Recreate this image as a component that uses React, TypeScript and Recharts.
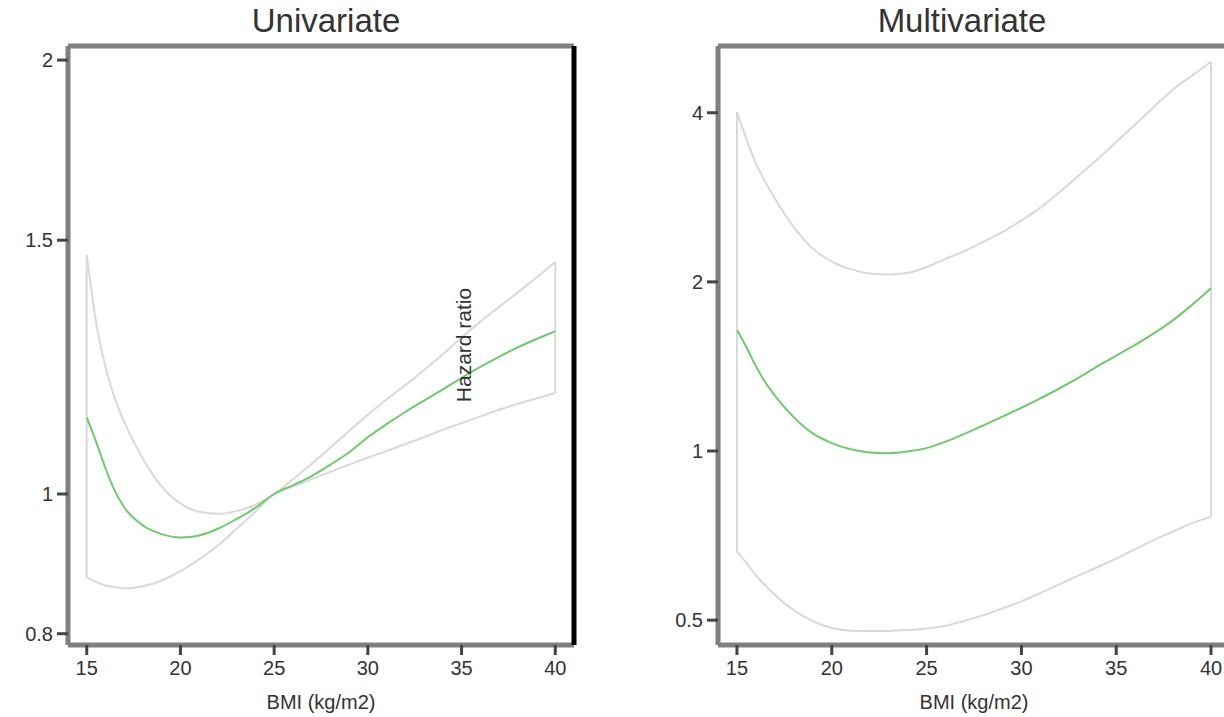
import React from "react";
import { Line, LineChart, XAxis, YAxis } from "recharts";

// BMI grid shared by every curve
const bmiGrid = [15, 15.5, 16, 16.5, 17, 18, 19, 20, 21, 22, 23, 24, 25, 26, 27, 28, 29, 30, 31, 32, 33, 34, 35, 36, 37, 38, 39, 40];
const bmiTicks = [15, 20, 25, 30, 35, 40];

// Univariate hazard ratio with 95% CI
const uniHr = [1.13, 1.087, 1.042, 1.005, 0.979, 0.951, 0.938, 0.933, 0.936, 0.946, 0.961, 0.978, 1.0, 1.014, 1.029, 1.048, 1.069, 1.095, 1.118, 1.14, 1.161, 1.182, 1.204, 1.225, 1.245, 1.264, 1.281, 1.297];
const uniUpper = [1.465, 1.315, 1.225, 1.165, 1.122, 1.058, 1.012, 0.985, 0.972, 0.969, 0.973, 0.983, 1.0, 1.024, 1.049, 1.077, 1.106, 1.135, 1.163, 1.19, 1.219, 1.25, 1.284, 1.317, 1.348, 1.38, 1.413, 1.449];
const uniLower = [0.876, 0.869, 0.864, 0.862, 0.86, 0.863, 0.871, 0.884, 0.901, 0.921, 0.946, 0.972, 1.0, 1.012, 1.024, 1.036, 1.048, 1.06, 1.071, 1.083, 1.095, 1.108, 1.12, 1.132, 1.144, 1.155, 1.165, 1.175];
const uniTicks = [0.8, 1, 1.5, 2];

// Multivariate hazard ratio with 95% CI
const multiHr = [1.642, 1.53, 1.416, 1.324, 1.255, 1.148, 1.075, 1.033, 1.007, 0.994, 0.991, 0.998, 1.012, 1.039, 1.073, 1.111, 1.151, 1.194, 1.241, 1.292, 1.349, 1.414, 1.478, 1.545, 1.621, 1.71, 1.82, 1.948];
const multiUpper = [4.01, 3.59, 3.25, 3.01, 2.815, 2.504, 2.292, 2.174, 2.107, 2.07, 2.062, 2.074, 2.126, 2.197, 2.27, 2.357, 2.453, 2.573, 2.711, 2.888, 3.085, 3.301, 3.547, 3.81, 4.1, 4.4, 4.66, 4.93];
const multiLower = [0.662, 0.632, 0.601, 0.576, 0.5545, 0.521, 0.498, 0.484, 0.479, 0.4785, 0.4785, 0.48, 0.483, 0.4885, 0.4986, 0.5104, 0.5246, 0.54, 0.559, 0.579, 0.6, 0.621, 0.6434, 0.6687, 0.6947, 0.7193, 0.744, 0.764];
const multiTicks = [0.5, 1, 2, 4];

const FONT = "'Liberation Sans', Arial, sans-serif";
const FRAME = "#808080";
const TICK = "#444444";
const TEXT = "#333333";
const GREEN = "#6ccb6c";
const CI_GRAY = "#d9d9d9";

type Point = { bmi: number; hr: number };

const toPoints = (xs: number[], ys: number[]): Point[] => xs.map((bmi, i) => ({ bmi, hr: ys[i] }));

interface PanelProps {
  left: number;
  width: number;
  hr: number[];
  upper: number[];
  lower: number[];
  yDomain: [number, number];
  yTicks: number[];
  rightEdge: string;
}

function Panel({ left, width, hr, upper, lower, yDomain, yTicks, rightEdge }: PanelProps) {
  const last = bmiGrid.length - 1;
  // closing edges of the confidence band at both ends of the BMI range
  const startEdge = [
    { bmi: bmiGrid[0], hr: lower[0] },
    { bmi: bmiGrid[0], hr: upper[0] },
  ];
  const endEdge = [
    { bmi: bmiGrid[last], hr: lower[last] },
    { bmi: bmiGrid[last], hr: upper[last] },
  ];
  const tickStyle = { fill: TEXT, fontSize: 20, fontFamily: FONT };

  return (
    <div style={{ position: "absolute", left, top: 0 }}>
      <LineChart width={width} height={715} margin={{ top: 44, right: 0, bottom: 0, left: 0 }}>
        <XAxis
          dataKey="bmi"
          type="number"
          domain={[14, 41]}
          ticks={bmiTicks}
          allowDataOverflow
          height={70}
          axisLine={{ stroke: FRAME, strokeWidth: 5 }}
          tickLine={{ stroke: TICK, strokeWidth: 3 }}
          tickSize={10}
          tickMargin={6}
          tick={tickStyle}
          label={{ value: "BMI (kg/m2)", position: "insideBottom", offset: 6, fill: TEXT, fontSize: 20, fontFamily: FONT }}
        />
        <XAxis
          xAxisId="top"
          orientation="top"
          type="number"
          domain={[14, 41]}
          allowDataOverflow
          height={2}
          tick={false}
          tickLine={false}
          axisLine={{ stroke: FRAME, strokeWidth: 5 }}
        />
        <YAxis
          type="number"
          scale="log"
          domain={yDomain}
          ticks={yTicks}
          allowDataOverflow
          width={68}
          axisLine={{ stroke: FRAME, strokeWidth: 5 }}
          tickLine={{ stroke: TICK, strokeWidth: 3 }}
          tickSize={11}
          tickMargin={4}
          tick={tickStyle}
        />
        <YAxis
          yAxisId="right"
          orientation="right"
          type="number"
          scale="log"
          domain={yDomain}
          allowDataOverflow
          width={6}
          tick={false}
          tickLine={false}
          axisLine={{ stroke: rightEdge, strokeWidth: 5 }}
        />
        <Line data={toPoints(bmiGrid, upper)} dataKey="hr" type="monotone" stroke={CI_GRAY} strokeWidth={2} dot={false} isAnimationActive={false} />
        <Line data={toPoints(bmiGrid, lower)} dataKey="hr" type="monotone" stroke={CI_GRAY} strokeWidth={2} dot={false} isAnimationActive={false} />
        <Line data={startEdge} dataKey="hr" type="linear" stroke={CI_GRAY} strokeWidth={2} dot={false} isAnimationActive={false} />
        <Line data={endEdge} dataKey="hr" type="linear" stroke={CI_GRAY} strokeWidth={2} dot={false} isAnimationActive={false} />
        <Line data={toPoints(bmiGrid, hr)} dataKey="hr" type="monotone" stroke={GREEN} strokeWidth={2} dot={false} isAnimationActive={false} />
      </LineChart>
    </div>
  );
}

const titleStyle: React.CSSProperties = {
  position: "absolute",
  top: 2,
  transform: "translateX(-50%)",
  fontFamily: FONT,
  fontSize: 33,
  color: TEXT,
  whiteSpace: "nowrap",
};

export default function App() {
  return (
    <div
      style={{
        position: "fixed",
        left: 0,
        top: 0,
        width: 1224,
        height: 717,
        overflow: "hidden",
        background: "#ffffff",
        fontFamily: FONT,
      }}
    >
      <div style={{ ...titleStyle, left: 326 }}>Univariate</div>
      <div style={{ ...titleStyle, left: 962 }}>Multivariate</div>

      <Panel
        left={0}
        width={580}
        hr={uniHr}
        upper={uniUpper}
        lower={uniLower}
        yDomain={[0.7857, 2.0455]}
        yTicks={uniTicks}
        rightEdge="#000000"
      />
      <Panel
        left={650}
        width={586}
        hr={multiHr}
        upper={multiUpper}
        lower={multiLower}
        yDomain={[0.4516, 5.258]}
        yTicks={multiTicks}
        rightEdge={FRAME}
      />

      <div
        style={{
          position: "absolute",
          left: 464,
          top: 345,
          transform: "translate(-50%, -50%) rotate(-90deg)",
          fontFamily: FONT,
          fontSize: 21,
          color: TEXT,
          whiteSpace: "nowrap",
        }}
      >
        Hazard ratio
      </div>
    </div>
  );
}
